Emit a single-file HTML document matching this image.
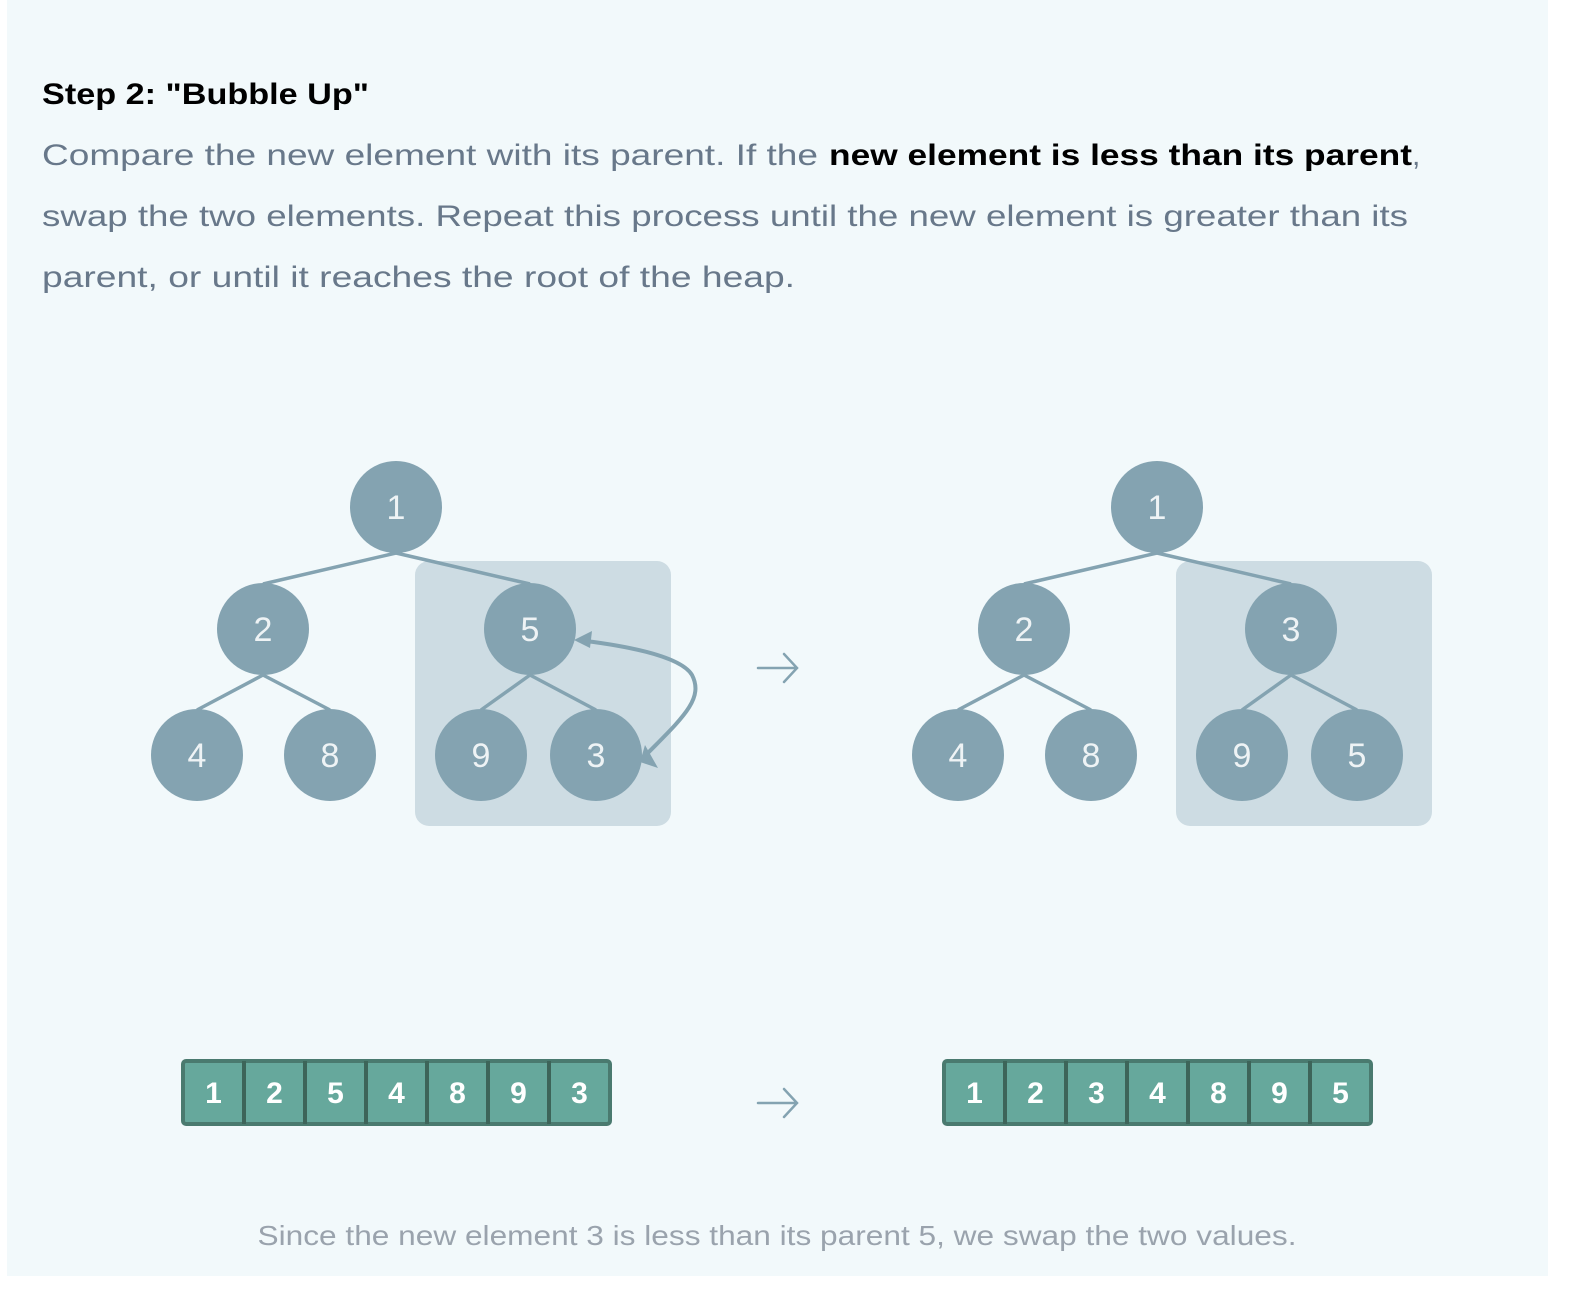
<!DOCTYPE html>
<html><head><meta charset="utf-8"><style>
html,body{margin:0;padding:0;background:#fff;}
svg{display:block;font-family:"Liberation Sans",sans-serif;}
</style></head><body>
<svg width="1584" height="1290" viewBox="0 0 1584 1290">
<rect x="7" y="0" width="1541" height="1276" fill="#f2f9fb"/>
<text x="42" y="104" font-size="30" font-weight="bold" fill="#000" textLength="327" lengthAdjust="spacingAndGlyphs">Step 2: "Bubble Up"</text>
<g font-size="30" fill="#68788a">
<text x="42" y="165" textLength="776" lengthAdjust="spacingAndGlyphs">Compare the new element with its parent. If the</text>
<text x="829" y="165" font-weight="bold" fill="#000" textLength="583" lengthAdjust="spacingAndGlyphs">new element is less than its parent</text>
<text x="1412" y="165">,</text>
<text x="42" y="226" textLength="1366" lengthAdjust="spacingAndGlyphs">swap the two elements. Repeat this process until the new element is greater than its</text>
<text x="42" y="287" textLength="753" lengthAdjust="spacingAndGlyphs">parent, or until it reaches the root of the heap.</text>
</g>
<g id="trees"></g>
<g id="arrays"></g>
<g fill="none" stroke="#84a3b1" stroke-width="2.5" stroke-linecap="round">
<path d="M758,668 L797,668 M784,654 L797,668 L784,682"/>
</g>
<g fill="none" stroke="#84a3b1" stroke-width="2.5" stroke-linecap="round">
<path d="M758,1103 L797,1103 M784,1089 L797,1103 L784,1117"/>
</g>
<text x="777" y="1245" font-size="28" fill="#9aa3ad" text-anchor="middle" textLength="1039" lengthAdjust="spacingAndGlyphs">Since the new element 3 is less than its parent 5, we swap the two values.</text>
</svg>
<script>
const beforeValues = [1, 2, 5, 4, 8, 9, 3];
const afterValues = [1, 2, 3, 4, 8, 9, 5];
const NS = 'http://www.w3.org/2000/svg';
function mk(tag, attrs, parent){const e=document.createElementNS(NS,tag);for(const k in attrs)e.setAttribute(k,attrs[k]);parent.appendChild(e);return e;}
const nodePos = [[396,507],[263,629],[530,629],[197,755],[330,755],[481,755],[596,755]];
const trees = document.getElementById('trees');
const arrays = document.getElementById('arrays');
function drawTree(vals, dx, label, withArrow){
  const g = mk('g',{},trees);
  
  
  const box = mk('rect',{x:415+dx,y:561,width:256,height:265,rx:14,fill:'#cddce3'},g);
  
  
  const edges=[[0,1],[0,2],[1,3],[1,4],[2,5],[2,6]];
  edges.forEach(([p,c])=>{
    const [px,py]=nodePos[p],[cx,cy]=nodePos[c];
    const ln = mk('line',{x1:px+dx,y1:py+46,x2:cx+dx,y2:cy-45,stroke:'#84a3b1','stroke-width':3.5},g);
    
    
  });
  if(withArrow){
    const ar = mk('path',{d:`M${641+dx},760 C${680+dx},720 ${705+dx},700 ${692+dx},675 C${680+dx},655 ${620+dx},645 ${578+dx},640`,fill:'none',stroke:'#84a3b1','stroke-width':4},g);
    
    
    mk('path',{d:`M${574+dx},640 L${592+dx},631 L${590+dx},648 Z`,fill:'#84a3b1'},g);
    mk('path',{d:`M${640+dx},762 L${645+dx},745 L${658+dx},768 Z`,fill:'#84a3b1'},g);
  }
  vals.forEach((v,i)=>{
    const [x,y]=nodePos[i];
    const c = mk('circle',{cx:x+dx,cy:y,r:46,fill:'#84a3b1'},g);
    
    
    const t = mk('text',{x:x+dx,y:y+12,'font-size':34,fill:'#eef3f5','text-anchor':'middle'},g);
    t.textContent = v;
    
    
  });
}
function drawArray(vals, x0, label){
  const g = mk('g',{},arrays);
  
  
  const w=61;
  const outer = mk('rect',{x:x0,y:1061,width:w*vals.length,height:63,rx:3,fill:'#66a89c',stroke:'#4a7a6f','stroke-width':4},g);
  
  
  vals.forEach((v,i)=>{
    if(i>0){
      const d = mk('line',{x1:x0+i*w,y1:1061,x2:x0+i*w,y2:1124,stroke:'#3d6459','stroke-width':4},g);
      
      
    }
    const t = mk('text',{x:x0+i*w+w/2,y:1103,'font-size':30,'font-weight':'bold',fill:'#fff','text-anchor':'middle'},g);
    t.textContent = v;
    
    
  });
}
drawTree(beforeValues, 0, 'heap-tree-before', true);
drawTree(afterValues, 761, 'heap-tree-after', false);
drawArray(beforeValues, 183, 'array-before');
drawArray(afterValues, 944, 'array-after');
</script>
</body></html>
